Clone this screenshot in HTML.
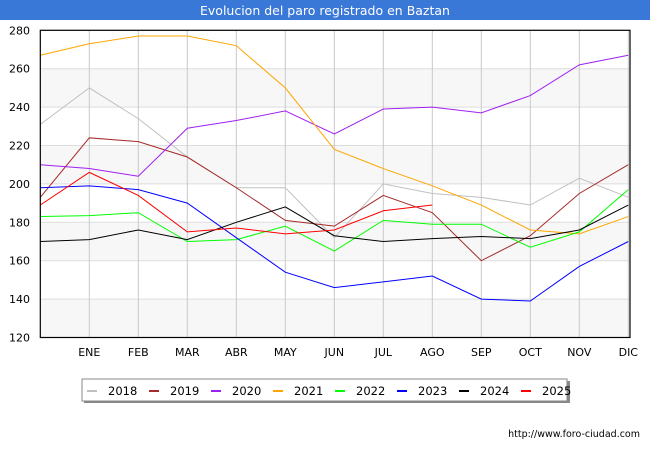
<!DOCTYPE html>
<html><head><meta charset="utf-8"><style>
body{margin:0;width:650px;height:450px;background:#fff;font-family:"DejaVu Sans","Liberation Sans",sans-serif;overflow:hidden}
</style></head><body>
<svg width="650" height="450" xmlns="http://www.w3.org/2000/svg">
<rect x="0" y="0" width="650" height="20" fill="#3a78d8"/>
<text x="325" y="15" text-anchor="middle" fill="#fff" font-size="12.5">Evolucion del paro registrado en Baztan</text>
<g id="plot"></g>
<text x="640" y="437" text-anchor="end" font-size="9.5" fill="#000">http://www.foro-ciudad.com</text>
</svg>
<script>
const months=["","ENE","FEB","MAR","ABR","MAY","JUN","JUL","AGO","SEP","OCT","NOV","DIC"];
const yTicks=[120,140,160,180,200,220,240,260,280];
const years=["2018","2019","2020","2021","2022","2023","2024","2025"];
const colors=["#c0c0c0","#a52a2a","#a020f0","#ffa500","#00ff00","#0000ff","#000000","#ff0000"];
const s2018=[231,250,234,214,198,198,172,200,195,193,189,203,193];
const s2019=[193,224,222,214,198,181,178,194,185,160,173,195,210];
const s2020=[210,208,204,229,233,238,226,239,240,237,246,262,267];
const s2021=[267,273,277,277,272,250,218,208,199,189,176,174,183];
const s2022=[183,183.5,185,170,171,178,165,181,179,179,167,175,197];
const s2023=[198,199,197,190,172,154,146,149,152,140,139,157,170];
const s2024=[170,171,176,171,180,188,173,170,171.5,172.6,171.5,176,189];
const s2025=[189,206,194,175,177,174,176,186,189];
const series=[s2018,s2019,s2020,s2021,s2022,s2023,s2024,s2025];
const NS="http://www.w3.org/2000/svg";
const L=40.3,R=628.3,T=30.3,B=337.5;
const xs=i=>L+i*(R-L)/12;
const ys=v=>T+(280-v)*(B-T)/160;
const g=document.getElementById('plot');
function mk(t,a,p){const e=document.createElementNS(NS,t);for(const k in a)e.setAttribute(k,a[k]);(p||g).appendChild(e);return e;}
// bands
for(let i=0;i<yTicks.length-1;i++){
 if(i%2===0){const b=mk('rect',{x:L,y:ys(yTicks[i+1]),width:630-L,height:ys(yTicks[i])-ys(yTicks[i+1]),fill:'#f7f7f7'});
 
 }
}
yTicks.forEach(v=>{
 const l=mk('line',{x1:L,x2:630,y1:ys(v),y2:ys(v),stroke:'#dddddd','stroke-width':1});
 
 
 const t=mk('text',{x:30,y:ys(v)+4,'text-anchor':'end','font-size':11,fill:'#000'});t.textContent=v;
 
 
});
months.forEach((m,i)=>{
 if(i===0)return;
 const l=mk('line',{x1:xs(i),x2:xs(i),y1:T,y2:B,stroke:'#c8c8c8','stroke-width':1});
 
 
 const t=mk('text',{x:xs(i),y:356,'text-anchor':'middle','font-size':11,fill:'#000'});t.textContent=m;
 
 
});
series.forEach((s,k)=>{
 const p=mk('polyline',{points:s.map((v,i)=>xs(i)+','+ys(v)).join(' '),fill:'none',stroke:colors[k],'stroke-width':1});
 
 
});
const fr=mk('rect',{x:L,y:T,width:630-L,height:B-T,fill:'none',stroke:'#000','stroke-width':1.2});


// legend
const sh=mk('rect',{x:84,y:381,width:486,height:22,fill:'#888'});


const lb=mk('rect',{x:82,y:379,width:485,height:22,fill:'#fff',stroke:'#888','stroke-width':1});


years.forEach((y,k)=>{
 const x0=87+k*62;
 const sw=mk('line',{x1:x0,x2:x0+10,y1:391,y2:391,stroke:colors[k],'stroke-width':2});
 
 
 const t=mk('text',{x:x0+21,y:395,'font-size':11.5,fill:'#000'});t.textContent=y;
 
 
});
</script>
</body></html>
